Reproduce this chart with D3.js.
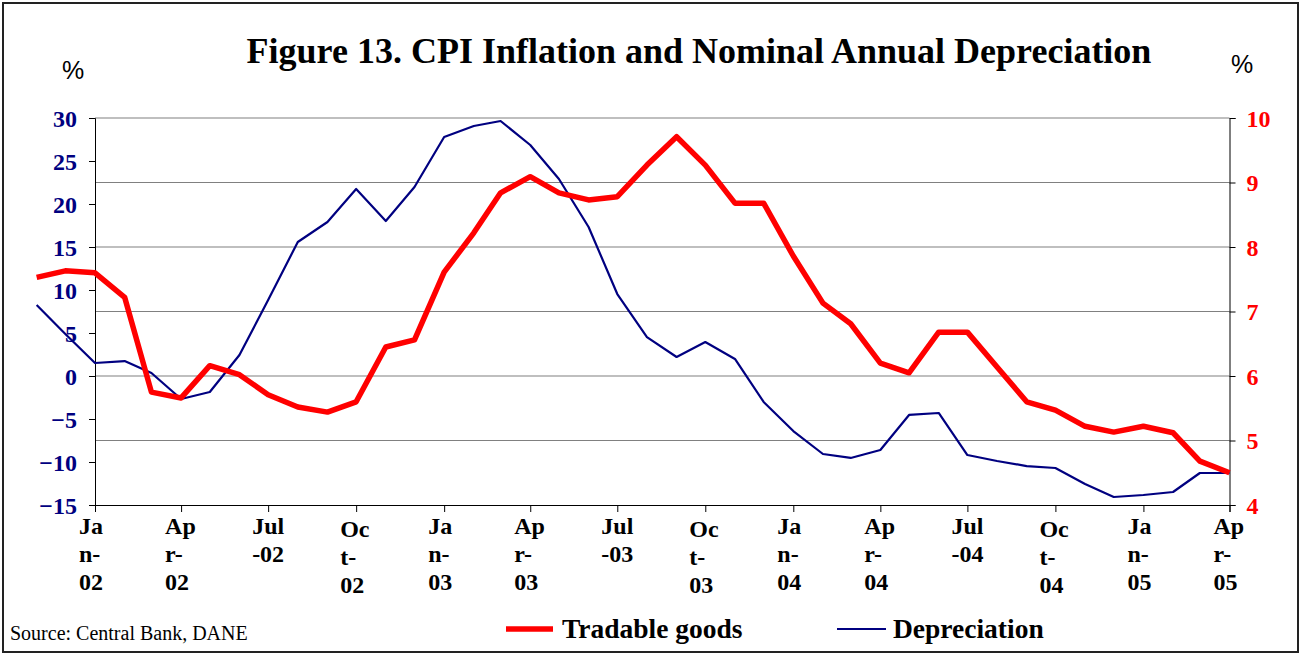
<!DOCTYPE html>
<meta charset="utf-8">
<head>
<title>Figure 13</title>
<script src="https://d3js.org/d3.v7.min.js"></script>
<style>
  body { margin: 0; background: #fff; }
  text { font-family: "Liberation Serif", "Times New Roman", serif; }
</style>
</head>
<div id="chart"></div>
<script>
  // months of data (Nov-01 .. Apr-05)
  var months = ["2001-11","2001-12",
    "2002-01","2002-02","2002-03","2002-04","2002-05","2002-06","2002-07","2002-08","2002-09","2002-10","2002-11","2002-12",
    "2003-01","2003-02","2003-03","2003-04","2003-05","2003-06","2003-07","2003-08","2003-09","2003-10","2003-11","2003-12",
    "2004-01","2004-02","2004-03","2004-04","2004-05","2004-06","2004-07","2004-08","2004-09","2004-10","2004-11","2004-12",
    "2005-01","2005-02","2005-03","2005-04"];

  // Tradable goods CPI inflation, right axis (%)
  var tradable = [7.53, 7.63,
    7.60, 7.22, 5.75, 5.66, 6.16, 6.02, 5.71, 5.52, 5.44, 5.60, 6.45, 6.56,
    7.61, 8.22, 8.84, 9.09, 8.84, 8.73, 8.78, 9.27, 9.71, 9.27, 8.68, 8.68,
    7.86, 7.13, 6.81, 6.20, 6.05, 6.68, 6.68, 6.14, 5.60, 5.47, 5.22, 5.13,
    5.22, 5.12, 4.68, 4.50];

  // nominal annual depreciation, left axis (%)
  var depreciation = [8.26, 4.88,
    1.51, 1.74, 0.35, -2.67, -1.86, 2.44, 8.84, 15.58, 17.91, 21.74, 18.02, 21.98,
    27.79, 29.07, 29.65, 26.86, 22.91, 17.33, 9.53, 4.53, 2.21, 3.95, 1.98, -3.02,
    -6.40, -9.07, -9.53, -8.60, -4.53, -4.30, -9.19, -9.88, -10.47, -10.70, -12.56, -14.07,
    -13.84, -13.49, -11.28, -11.28];

  // x ticks (quarterly) and their wrapped labels
  var tickMonths = ["2002-01","2002-04","2002-07","2002-10","2003-01","2003-04","2003-07","2003-10",
    "2004-01","2004-04","2004-07","2004-10","2005-01","2005-04"];
  var tickLines = [["Ja","n-","02"],["Ap","r-","02"],["Jul","-02"],["Oc","t-","02"],
    ["Ja","n-","03"],["Ap","r-","03"],["Jul","-03"],["Oc","t-","03"],
    ["Ja","n-","04"],["Ap","r-","04"],["Jul","-04"],["Oc","t-","04"],
    ["Ja","n-","05"],["Ap","r-","05"]];

  var leftTicks = [-15, -10, -5, 0, 5, 10, 15, 20, 25, 30];
  var rightTicks = [4, 5, 6, 7, 8, 9, 10];

  var W = 1301, H = 654;
  var plotL = 95, plotR = 1229.5, plotT = 118, plotB = 505;

  var parse = d3.timeParse("%Y-%m");

  var svg = d3.select("#chart").append("svg")
    .attr("width", W).attr("height", H);

  // outer frame
  svg.append("rect")
    .attr("x", 3).attr("y", 3)
    .attr("width", 1295).attr("height", 649)
    .attr("fill", "none").attr("stroke", "#222").attr("stroke-width", 2);

  var x = d3.scaleTime()
    .domain([parse("2002-01"), parse("2005-04")])
    .range([plotL, plotR]);
  var yL = d3.scaleLinear().domain([-15, 30]).range([plotB, plotT]);
  var yR = d3.scaleLinear().domain([4, 10]).range([plotB, plotT]);

  // gridlines (on right axis values)
  svg.append("g")
    .selectAll("line")
    .data(rightTicks.filter(function(d) { return d > 4; }))
    .enter().append("line")
      .attr("x1", plotL).attr("x2", plotR)
      .attr("y1", function(d) { return yR(d); })
      .attr("y2", function(d) { return yR(d); })
      .attr("stroke", "#808080").attr("stroke-width", 1.2);

  // left axis
  var gL = svg.append("g")
    .attr("transform", "translate(" + plotL + ",0)")
    .call(d3.axisLeft(yL).tickValues(leftTicks).tickSize(6).tickPadding(12).tickFormat(d3.format("d")));
  gL.selectAll("text")
    .style("font-size", "24px").style("font-weight", "bold")
    .attr("fill", "#000080").attr("dy", "0.35em");

  // right axis
  var gR = svg.append("g")
    .attr("transform", "translate(" + plotR + ",0)")
    .call(d3.axisRight(yR).tickValues(rightTicks).tickSize(6).tickPadding(11).tickFormat(d3.format("d")));
  gR.selectAll("text")
    .style("font-size", "24px").style("font-weight", "bold")
    .attr("fill", "#ff0000").attr("dy", "0.35em");

  // bottom axis
  var gB = svg.append("g")
    .attr("transform", "translate(0," + plotB + ")")
    .call(d3.axisBottom(x).tickValues(tickMonths.map(parse)).tickSize(7).tickFormat(""));

  svg.selectAll(".domain").attr("stroke", "#000");
  svg.selectAll(".tick line").attr("stroke", "#000");

  // wrapped x labels
  var xl = svg.append("g").selectAll("text")
    .data(tickMonths)
    .enter().append("text")
      .attr("x", function(d) { return x(parse(d)) - 16; })
      .attr("y", function(d, i) { return tickLines[i][0] == "Oc" ? 537 : 534; })
      .style("font-size", "24px").style("font-weight", "bold")
      .attr("fill", "#000");
  xl.each(function(d, i) {
    var t = d3.select(this);
    tickLines[i].forEach(function(s, j) {
      t.append("tspan")
        .attr("x", x(parse(d)) - 16)
        .attr("dy", j == 0 ? 0 : 28)
        .text(s);
    });
  });

  // lines
  var redLine = d3.line()
    .x(function(d, i) { return x(parse(months[i])); })
    .y(function(d) { return yR(d); });
  var blueLine = d3.line()
    .x(function(d, i) { return x(parse(months[i])); })
    .y(function(d) { return yL(d); });

  svg.append("path")
    .datum(depreciation)
    .attr("d", blueLine)
    .attr("fill", "none").attr("stroke", "#000080").attr("stroke-width", 2.2)
    .attr("stroke-linejoin", "round");

  svg.append("path")
    .datum(tradable)
    .attr("d", redLine)
    .attr("fill", "none").attr("stroke", "#ff0000").attr("stroke-width", 5.5)
    .attr("stroke-linejoin", "round");

  // title
  svg.append("text")
    .attr("x", 699).attr("y", 63)
    .attr("text-anchor", "middle")
    .style("font-size", "36px").style("font-weight", "bold")
    .text("Figure 13. CPI Inflation and Nominal Annual Depreciation");

  // % units
  svg.append("text")
    .attr("x", 73).attr("y", 79)
    .attr("text-anchor", "middle")
    .style("font-family", "'Liberation Sans', Arial, sans-serif")
    .style("font-size", "25px")
    .text("%");
  svg.append("text")
    .attr("x", 1242).attr("y", 73)
    .attr("text-anchor", "middle")
    .style("font-family", "'Liberation Sans', Arial, sans-serif")
    .style("font-size", "25px")
    .text("%");

  // source
  svg.append("text")
    .attr("x", 10).attr("y", 640)
    .style("font-size", "20px")
    .text("Source: Central Bank, DANE");

  // legend
  svg.append("line")
    .attr("x1", 506).attr("x2", 553).attr("y1", 629).attr("y2", 629)
    .attr("stroke", "#ff0000").attr("stroke-width", 5.5);
  svg.append("text")
    .attr("x", 562).attr("y", 638)
    .style("font-size", "27.5px").style("font-weight", "bold")
    .text("Tradable goods");
  svg.append("line")
    .attr("x1", 837).attr("x2", 886).attr("y1", 629).attr("y2", 629)
    .attr("stroke", "#000080").attr("stroke-width", 2.2);
  svg.append("text")
    .attr("x", 893).attr("y", 638)
    .style("font-size", "27.5px").style("font-weight", "bold")
    .text("Depreciation");
</script>
